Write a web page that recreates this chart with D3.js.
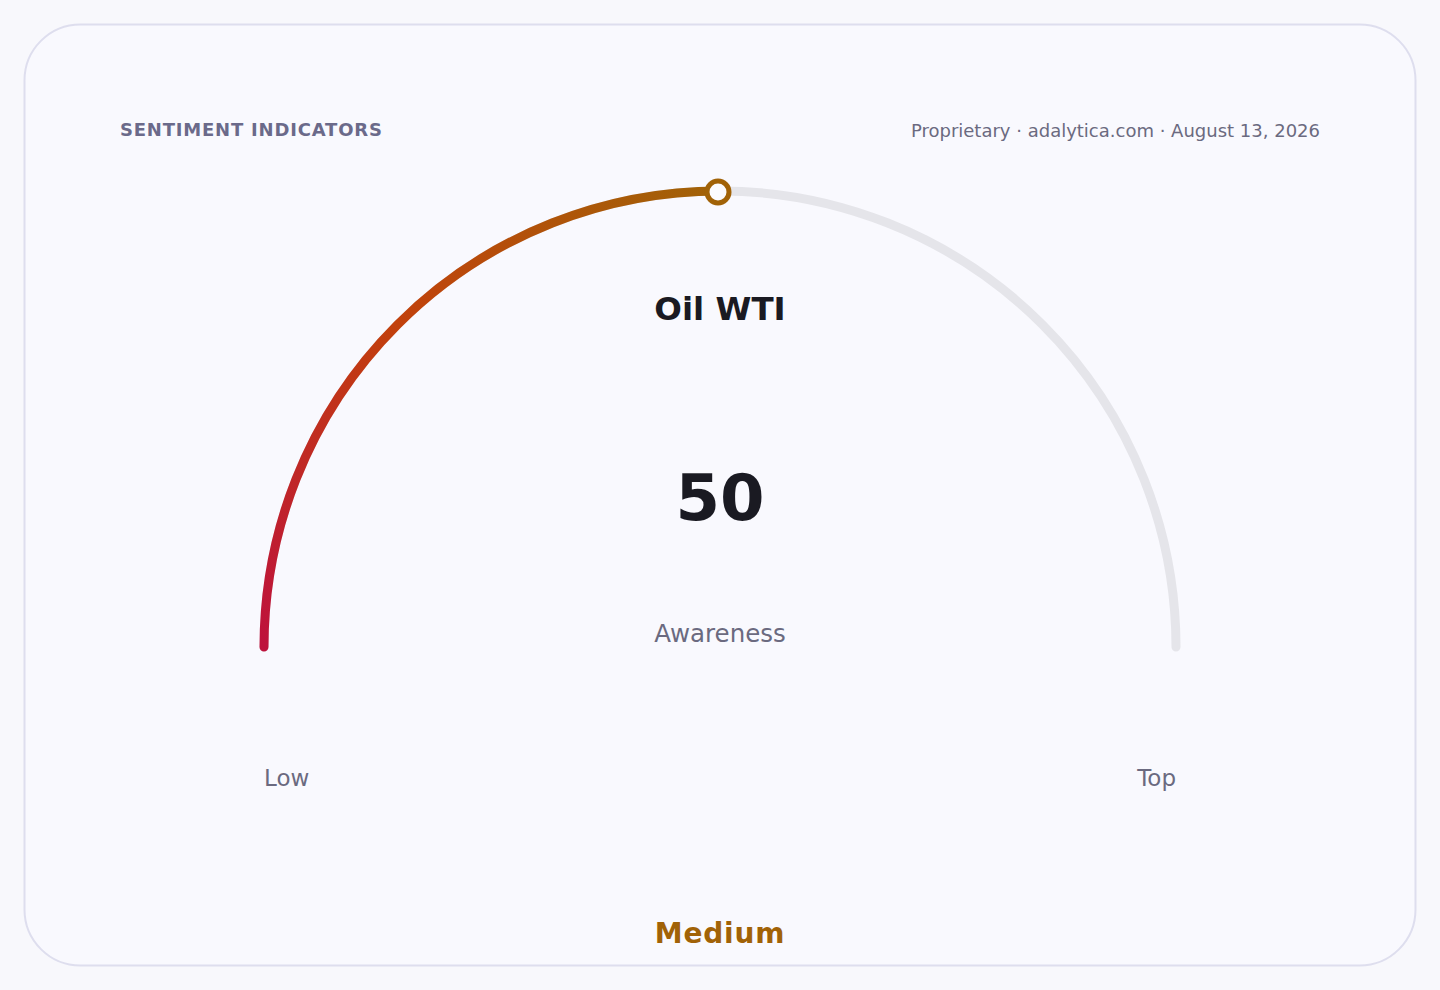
<!DOCTYPE html>
<html>
<head>
<meta charset="utf-8">
<script src="https://cdn.jsdelivr.net/npm/d3@7"></script>
<style>
  html, body { margin: 0; padding: 0; background: #f8f8fc; }
  svg { display: block; }
  text { font-family: "DejaVu Sans", sans-serif; }
</style>
</head>
<body>
<svg id="chart" width="1440" height="990"></svg>
<script>
// ---- data ----
const headerTitle = "SENTIMENT INDICATORS";
const headerSource = "Proprietary · adalytica.com · August 13, 2026";
const gaugeName = "Oil WTI";
const gaugeValue = 50;
const gaugeDomain = [0, 100];
const gaugeMetric = "Awareness";
const endLabels = ["Low", "Top"];
const levelLabel = "Medium";
const gradientColors = ["#be123c", "#c2410c", "#a16207"];

// ---- layout ----
const svg = d3.select("#chart");

svg.append("rect")
  .attr("x", 24.5).attr("y", 24.5)
  .attr("width", 1391).attr("height", 941)
  .attr("rx", 56).attr("ry", 56)
  .attr("fill", "#f9f9fe")
  .attr("stroke", "#dedeee")
  .attr("stroke-width", 2);

svg.append("text")
  .attr("x", 120).attr("y", 136)
  .attr("font-size", 18).attr("font-weight", "bold")
  .attr("letter-spacing", 0.8)
  .attr("fill", "#6b6a8a")
  .text(headerTitle);

svg.append("text")
  .attr("x", 1320).attr("y", 137)
  .attr("text-anchor", "end")
  .attr("font-size", 18)
  .attr("fill", "#6b6a80")
  .text(headerSource);

const cx = 720, cy = 647, R = 456;
const angle = d3.scaleLinear().domain(gaugeDomain).range([-Math.PI / 2, Math.PI / 2]);

const defs = svg.append("defs");
const grad = defs.append("linearGradient")
  .attr("id", "arcGrad")
  .attr("gradientUnits", "userSpaceOnUse")
  .attr("x1", cx - R).attr("y1", cy)
  .attr("x2", cx).attr("y2", cy - R);
grad.selectAll("stop").data(gradientColors).join("stop")
  .attr("offset", (d, i) => i / (gradientColors.length - 1))
  .attr("stop-color", d => d);

const g = svg.append("g").attr("transform", `translate(${cx},${cy})`);

const arcLine = (a0, a1) => {
  const p = d3.path();
  p.arc(0, 0, R, a0 - Math.PI / 2, a1 - Math.PI / 2, false);
  return p.toString();
};

// track
g.append("path")
  .attr("d", arcLine(angle(gaugeDomain[0]), angle(gaugeDomain[1])))
  .attr("fill", "none")
  .attr("stroke", "#e5e5ea")
  .attr("stroke-width", 9)
  .attr("stroke-linecap", "round");

// value arc
g.append("path")
  .attr("d", arcLine(angle(gaugeDomain[0]), angle(gaugeValue)))
  .attr("fill", "none")
  .attr("stroke", "url(#arcGrad)")
  .attr("stroke-width", 9)
  .attr("stroke-linecap", "round")
  .attr("transform", `translate(${-cx},${-cy})`)
  .attr("d", function () {
    const p = d3.path();
    p.arc(cx, cy, R, angle(gaugeDomain[0]) - Math.PI / 2, angle(gaugeValue) - Math.PI / 2, false);
    return p.toString();
  });

// marker (on top)
const a = angle(gaugeValue);
g.append("circle")
  .attr("cx", R * Math.sin(a) - 2)
  .attr("cy", -R * Math.cos(a) + 1)
  .attr("r", 11)
  .attr("fill", "#fbfbfe")
  .attr("stroke", gradientColors[2])
  .attr("stroke-width", 5);

// center texts
svg.append("text")
  .attr("x", cx).attr("y", 320)
  .attr("text-anchor", "middle")
  .attr("font-size", 32.5).attr("font-weight", "bold")
  .attr("fill", "#1a1a22")
  .text(gaugeName);

svg.append("text")
  .attr("x", cx).attr("y", 520)
  .attr("text-anchor", "middle")
  .attr("font-size", 64).attr("font-weight", "bold")
  .attr("fill", "#1a1a22")
  .text(gaugeValue);

svg.append("text")
  .attr("x", cx).attr("y", 642)
  .attr("text-anchor", "middle")
  .attr("font-size", 24.5)
  .attr("fill", "#6b6a80")
  .text(gaugeMetric);

svg.append("text")
  .attr("x", cx - R).attr("y", 786)
  .attr("font-size", 23)
  .attr("fill", "#6b6a80")
  .text(endLabels[0]);

svg.append("text")
  .attr("x", cx + R).attr("y", 786)
  .attr("text-anchor", "end")
  .attr("font-size", 23)
  .attr("fill", "#6b6a80")
  .text(endLabels[1]);

svg.append("text")
  .attr("x", cx).attr("y", 943)
  .attr("text-anchor", "middle")
  .attr("font-size", 28).attr("font-weight", "bold")
  .attr("letter-spacing", 0.8)
  .attr("fill", gradientColors[2])
  .text(levelLabel);
</script>
</body>
</html>
